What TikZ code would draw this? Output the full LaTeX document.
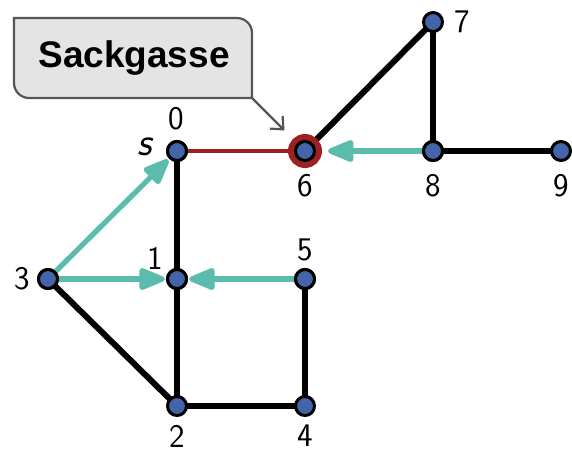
\documentclass[tikz,border=0pt]{standalone}
\usepackage{fontspec}
\newfontfamily\calloutfont{Liberation Sans}
\usetikzlibrary{arrows.meta}
\definecolor{nodeblue}{HTML}{4565AB}
\definecolor{tealc}{HTML}{5BBCAE}
\definecolor{redc}{HTML}{A01F22}
\definecolor{boxfill}{HTML}{E4E4E4}
\definecolor{boxline}{HTML}{555555}
\tikzset{
  vtx/.style={circle, fill=nodeblue, draw=black, line width=1.5pt, minimum size=9.5pt, inner sep=0pt},
  lbl/.style={font=\sffamily\fontsize{16.5}{19}\selectfont, inner sep=0pt},
  edgeb/.style={line width=3pt, black},
  edger/.style={line width=2.3pt, redc},
  tarrow/.style={line width=2.6pt, tealc, -{Triangle[length=15pt, width=11.5pt, round]}, shorten >=0.6pt},
  callbox/.style={fill=boxfill, draw=boxline, line width=1.1pt},
  callptr/.style={draw=boxline, line width=1.1pt, -{Straight Barb[length=5pt, width=9pt]}},
}
\begin{document}
\begin{tikzpicture}[x=0.5pt, y=0.5pt]
\useasboundingbox (0,0) rectangle (572,452);
% callout
\filldraw[callbox] (14,434) -- (237,434) arc[start angle=90, end angle=0, radius=15]
  -- (252,354) -- (29,354) arc[start angle=270, end angle=180, radius=15] -- cycle;
\node[anchor=base, inner sep=0pt, font=\calloutfont\bfseries\fontsize{18.5}{22}\selectfont] (callout) at (134,385) {Sackgasse};
\coordinate (cc) at (252,354);
% vertices
\coordinate (p0) at (177,301);
\coordinate (p6) at (305,301);
% edges
\draw[edgeb] (p6) -- (433,430);
\draw[edgeb] (433,430) -- (433,301);
\draw[edgeb] (433,301) -- (561,301);
\draw[edgeb] (p0) -- (177,173);
\draw[edgeb] (177,173) -- (177,46);
\draw[edgeb] (48,173) -- (177,46);
\draw[edgeb] (177,46) -- (305,46);
\draw[edgeb] (305,46) -- (305,173);
\draw[edger] (p0) -- (p6);
% red ring
\draw[redc, line width=3pt] (p6) circle[radius=14];
\node[vtx] (n0) at (177,301) {};
\node[vtx] (n6) at (305,301) {};
\node[vtx] (n7) at (433,430) {};
\node[vtx] (n8) at (433,301) {};
\node[vtx] (n9) at (561,301) {};
\node[vtx] (n3) at (48,173) {};
\node[vtx] (n1) at (177,173) {};
\node[vtx] (n5) at (305,173) {};
\node[vtx] (n2) at (177,46) {};
\node[vtx] (n4) at (305,46) {};
% teal arrows
\draw[tarrow] (n3) -- (n0);
\draw[tarrow] (n3) -- (n1);
\draw[tarrow] (n5) -- (n1);
\draw[tarrow, shorten >=6pt] (n8) -- (n6);
% redraw vertices on top
\node[vtx] at (177,301) {};
\node[vtx] at (305,301) {};
\node[vtx] at (177,173) {};
\node[vtx] at (48,173) {};
\node[vtx] at (305,173) {};
\node[vtx] at (433,301) {};
% pointer
\draw[callptr, shorten >=14.5pt] (cc) -- (n6.center);
% labels
\node[lbl] (l0) at (176,333) {0};
\node[lbl, font=\sffamily\slshape\fontsize{20}{23}\selectfont] (ls) at (145,305) {s};
\node[lbl] (l6) at (305,266) {6};
\node[lbl] (l7) at (462,430) {7};
\node[lbl] (l8) at (433,266) {8};
\node[lbl] (l9) at (561,266) {9};
\node[lbl] (l3) at (22,173) {3};
\node[lbl] (l1) at (155,194) {1};
\node[lbl] (l5) at (305,202) {5};
\node[lbl] (l2) at (177,16) {2};
\node[lbl] (l4) at (305,16) {4};
\end{tikzpicture}
\end{document}
